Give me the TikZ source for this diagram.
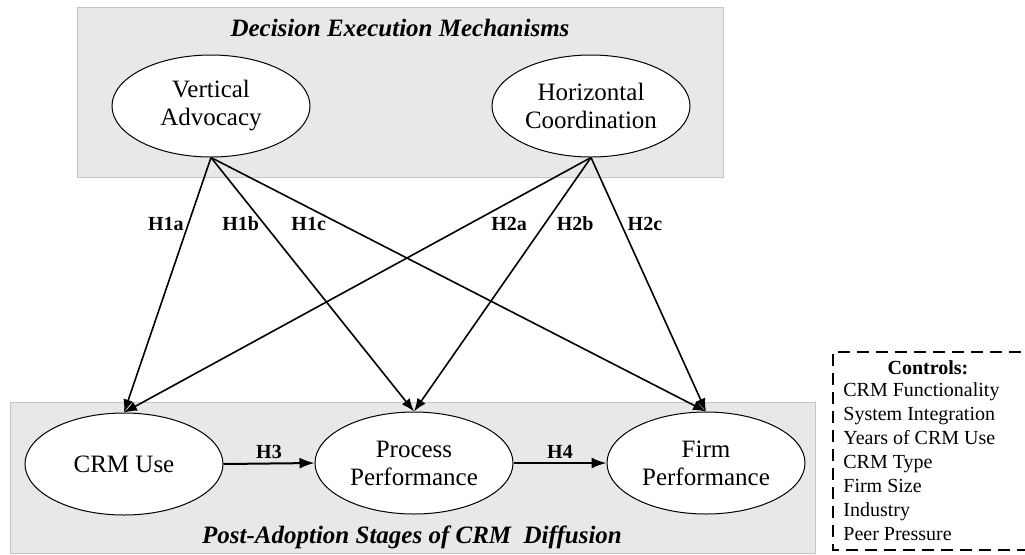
\documentclass[tikz,border=0pt]{standalone}
\usepackage{fontspec}
\setmainfont{Liberation Serif}
\usetikzlibrary{shapes.geometric}
\usetikzlibrary{arrows.meta}
\usetikzlibrary{positioning}

\definecolor{panelgray}{HTML}{E8E8EA}
\definecolor{panelline}{HTML}{C4C4C6}

\tikzset{
  construct/.style={ellipse, draw, fill=white, line width=0.5pt, minimum width=99pt, minimum height=51pt,
    inner sep=0pt, align=center, font=\fontsize{12.5}{14}\selectfont},
  panel/.style={fill=panelgray, draw=panelline, line width=0.5pt},
  paneltitle/.style={font=\fontsize{12.5}{14}\selectfont\bfseries\itshape},
  hyp/.style={line width=0.8pt, -{Latex[length=6.5pt,width=5pt]}},
  stage/.style={line width=1pt, -{Latex[length=7.5pt,width=5.5pt]}},
  hlab/.style={font=\fontsize{10}{12}\selectfont\bfseries, inner sep=2pt},
  ctrl/.style={font=\fontsize{10}{12}\selectfont, inner sep=0pt}
}

\begin{document}
\begin{tikzpicture}[x=0.5pt, y=-0.5pt]
    \useasboundingbox (0,0) rectangle (1025,554);

    % panels
    \draw[panel] (77,7) rectangle (723,177);
    \draw[panel] (10,402) rectangle (815,553);
    \node[paneltitle] (toptitle) at (400,28) {Decision Execution Mechanisms};
    \node[paneltitle] (bottitle) at (412,537) {Post-Adoption Stages of CRM\ \ Diffusion};

    % constructs
    \node[construct] (va) at (211,106) {Vertical\\Advocacy};
    \node[construct] (hc) at (591,106) {Horizontal\\Coordination};
    \node[construct] (cu) at (124,464) {CRM Use};
    \node[construct] (pp) at (414,463) {Process\\Performance};
    \node[construct] (fp) at (706,463) {Firm\\Performance};

    % hypotheses
    \draw[hyp] (va.south) -- node[hlab, pos=.26, left] (h1a) {H1a} (cu.north);
    \draw[hyp] (va.south) -- node[hlab, pos=.26, left] (h1b) {H1b} (pp.north);
    \draw[hyp] (va.south) -- node[hlab, pos=.26, left, xshift=-4.5pt] (h1c) {H1c} (fp.north);
    \draw[hyp] (hc.south) -- node[hlab, pos=.26, right, xshift=8.5pt] (h2a) {H2a} (cu.north);
    \draw[hyp] (hc.south) -- node[hlab, pos=.26, right, xshift=3.5pt] (h2b) {H2b} (pp.north);
    \draw[hyp] (hc.south) -- node[hlab, pos=.26, right, xshift=1pt] (h2c) {H2c} (fp.north);
    \draw[stage] (cu.east) -- node[hlab, above] (h3) {H3} (pp.west);
    \draw[stage] (pp.east) -- node[hlab, above] (h4) {H4} (fp.west);

    % controls
    \draw[line width=0.75pt, dash pattern=on 6pt off 3.5pt] (1040,352) -- (833,352) -- (833,550) -- (1040,550);
    \node[ctrl, font=\fontsize{10}{12}\selectfont\bfseries] (ctrltitle) at (928,368) {Controls:};
    \node[ctrl, anchor=north west, align=left] (ctrllist) at (843,382)
      {CRM Functionality\\System Integration\\Years of CRM Use\\CRM Type\\Firm Size\\Industry\\Peer Pressure};
\end{tikzpicture}
\end{document}
